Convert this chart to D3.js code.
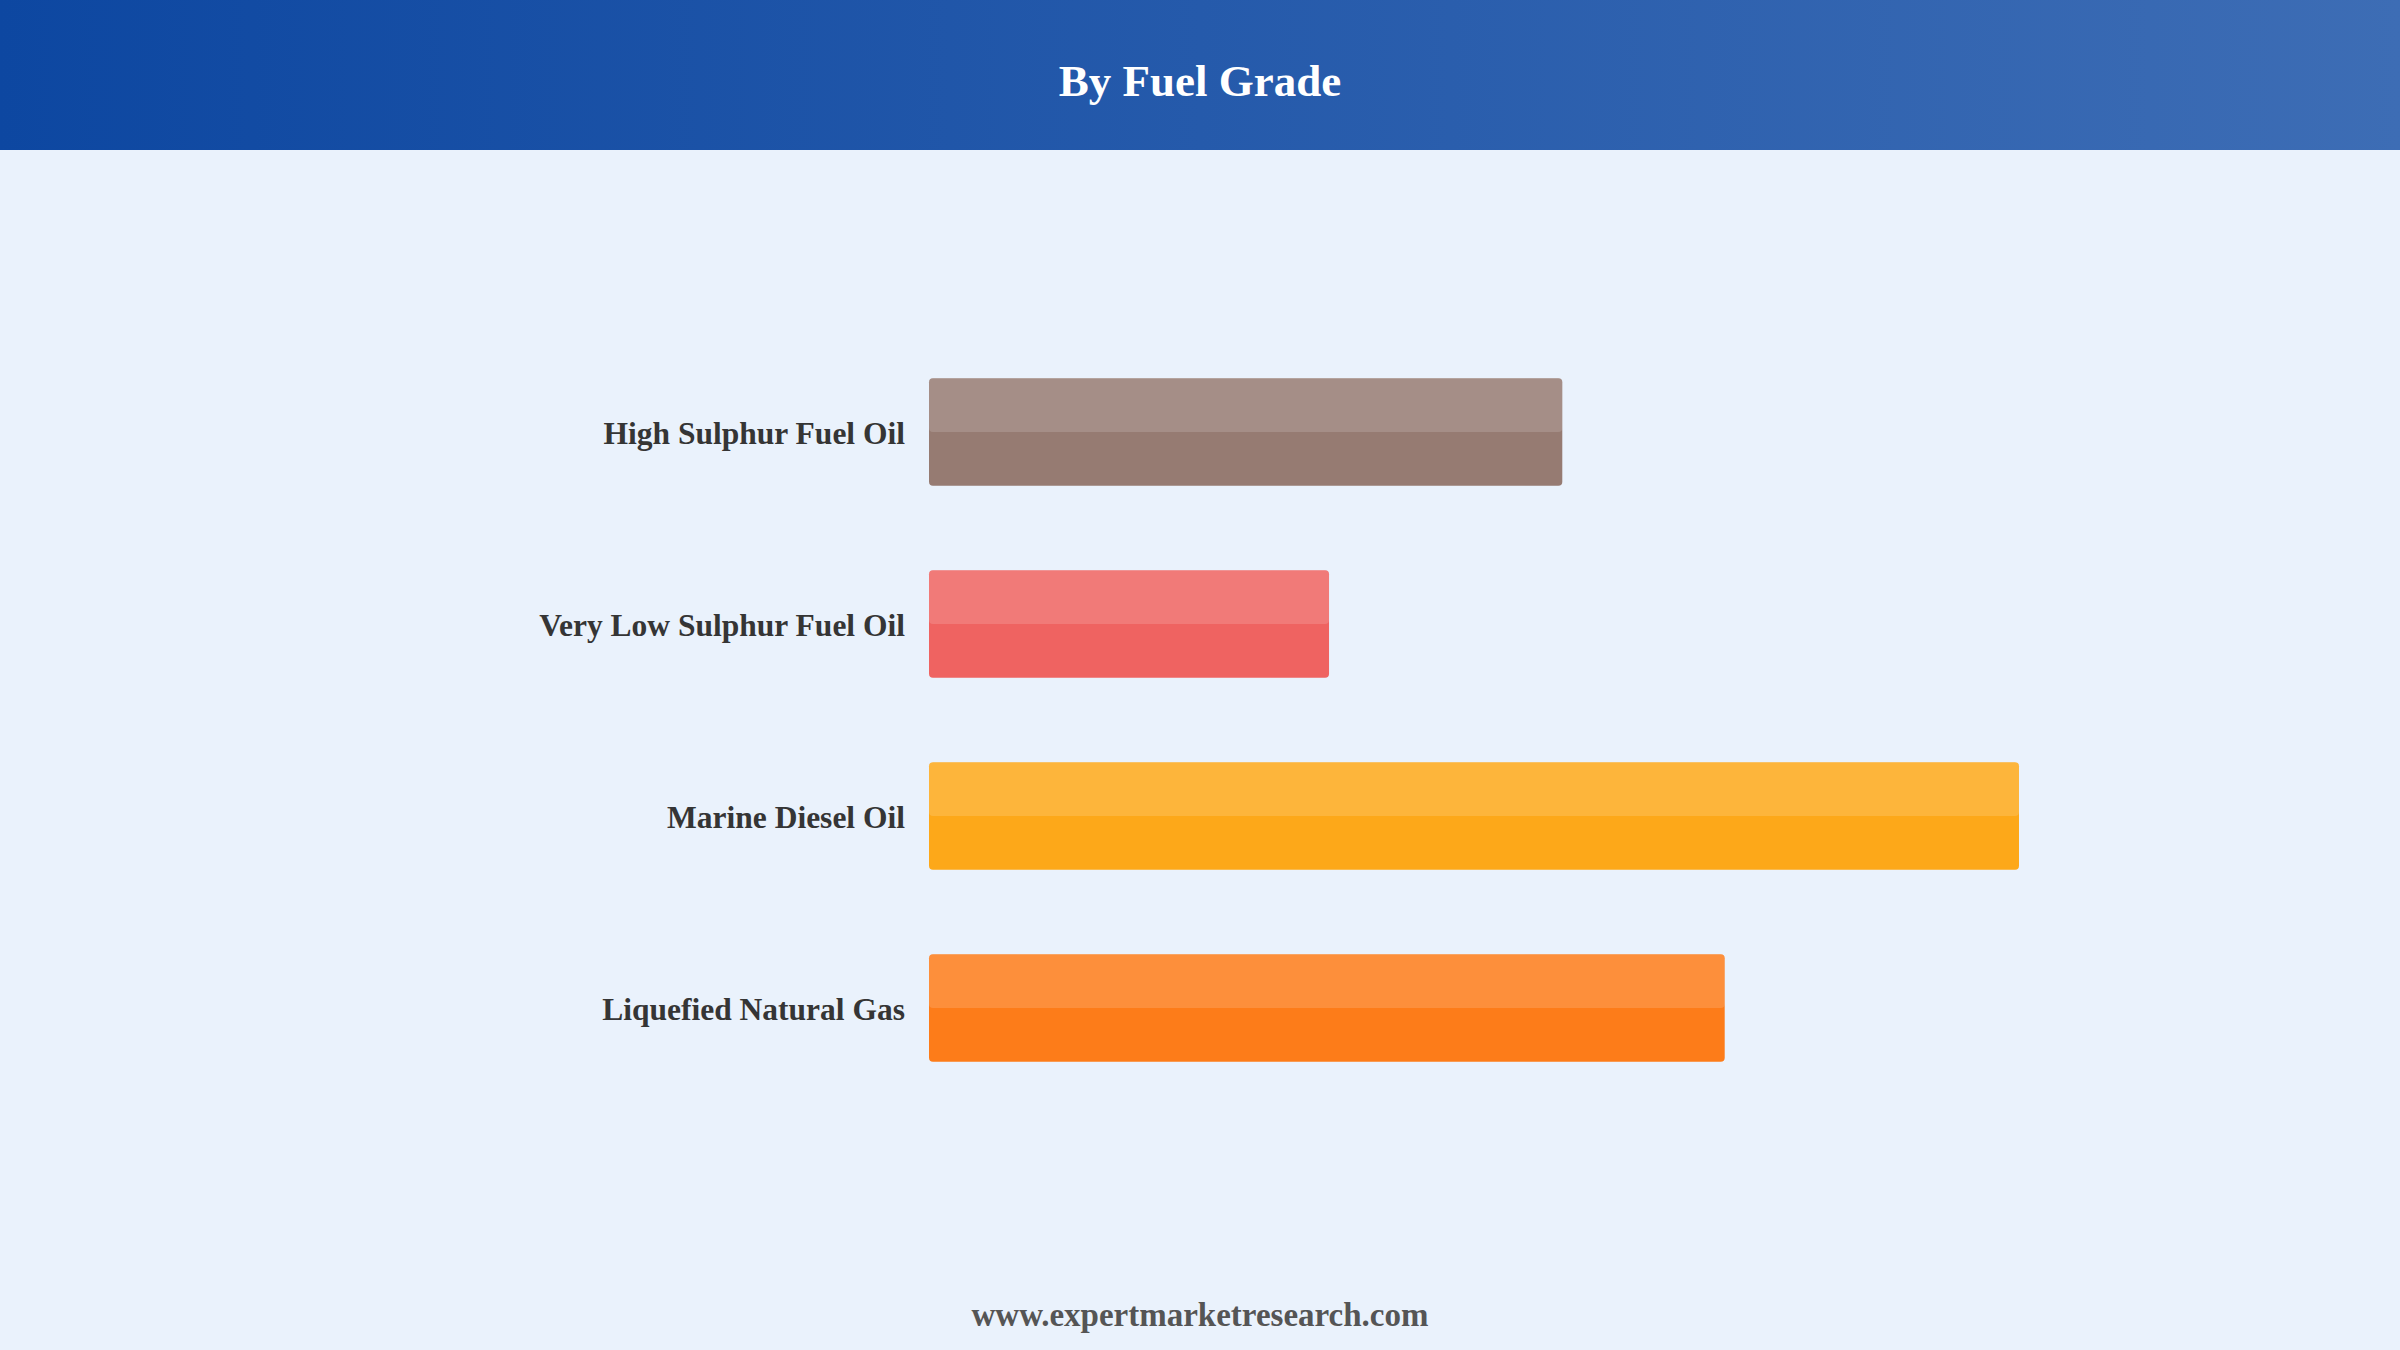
<!DOCTYPE html>
<html>
<head>
<meta charset="utf-8">
<script src="https://cdn.jsdelivr.net/npm/d3@7"></script>
<style>
  html, body { margin: 0; padding: 0; background: #eaf2fc; }
</style>
</head>
<body>
<script>
let width = 2400;
let height = 1350;

// chart data
let categories = ['High Sulphur Fuel Oil', 'Very Low Sulphur Fuel Oil', 'Marine Diesel Oil', 'Liquefied Natural Gas'];
let values = [58.1, 36.7, 100, 73.0];
let barColors = ['#8d6e63', '#ef5350', '#ffa000', '#ff6f00'];
let title = 'By Fuel Grade';
let footer = 'www.expertmarketresearch.com';

let svg = d3.select("body").append("svg")
    .attr("width", width)
    .attr("height", height)
    .style("display", "block");

let defs = svg.append("defs");
let grad = defs.append("linearGradient")
    .attr("id", "headerGrad")
    .attr("x1", "0%").attr("x2", "100%")
    .attr("y1", "0%").attr("y2", "0%");
grad.append("stop").attr("offset", "0%").attr("stop-color", "#0d47a1");
grad.append("stop").attr("offset", "100%").attr("stop-color", "#3d6db5");

svg.append("rect")
    .attr("width", width)
    .attr("height", height)
    .attr("fill", "#eaf2fc");

// header band
svg.append("rect")
    .attr("width", width)
    .attr("height", 150)
    .attr("fill", "url(#headerGrad)");

svg.append("text")
    .attr("x", width / 2)
    .attr("y", 96)
    .attr("text-anchor", "middle")
    .style("font-family", "'Liberation Serif', 'Times New Roman', serif")
    .style("font-weight", "bold")
    .style("font-size", "45px")
    .style("fill", "#ffffff")
    .text(title);

let x = d3.scaleLinear()
    .domain([0, 100])
    .range([929, 2019]);

let y = d3.scaleBand()
    .domain(categories)
    .range([300, 1140])
    .paddingInner(0.44)
    .paddingOuter(0.4075);

let rows = categories.map((c, i) => ({ name: c, value: values[i], color: barColors[i] }));

let g = svg.append("g");

let bar = g.selectAll("g.bar")
    .data(rows)
    .enter()
    .append("g")
    .attr("class", "bar");

bar.append("rect")
    .attr("x", x(0))
    .attr("y", d => y(d.name))
    .attr("width", d => x(d.value) - x(0))
    .attr("height", y.bandwidth())
    .attr("rx", 4)
    .style("fill", d => d.color)
    .style("fill-opacity", 0.9);

// lighter top half
bar.append("rect")
    .attr("x", x(0))
    .attr("y", d => y(d.name))
    .attr("width", d => x(d.value) - x(0))
    .attr("height", y.bandwidth() / 2)
    .attr("rx", 4)
    .style("fill", "#ffffff")
    .style("fill-opacity", 0.15);

bar.append("text")
    .attr("x", x(0) - 24)
    .attr("y", d => y(d.name) + y.bandwidth() / 2)
    .attr("dy", "0.38em")
    .attr("text-anchor", "end")
    .style("font-family", "'Liberation Serif', 'Times New Roman', serif")
    .style("font-weight", "bold")
    .style("font-size", "31.5px")
    .style("fill", "#353535")
    .text(d => d.name);

svg.append("text")
    .attr("x", width / 2)
    .attr("y", 1326)
    .attr("text-anchor", "middle")
    .style("font-family", "'Liberation Serif', 'Times New Roman', serif")
    .style("font-weight", "bold")
    .style("font-size", "33px")
    .style("fill", "#555555")
    .text(footer);
</script>
</body>
</html>
